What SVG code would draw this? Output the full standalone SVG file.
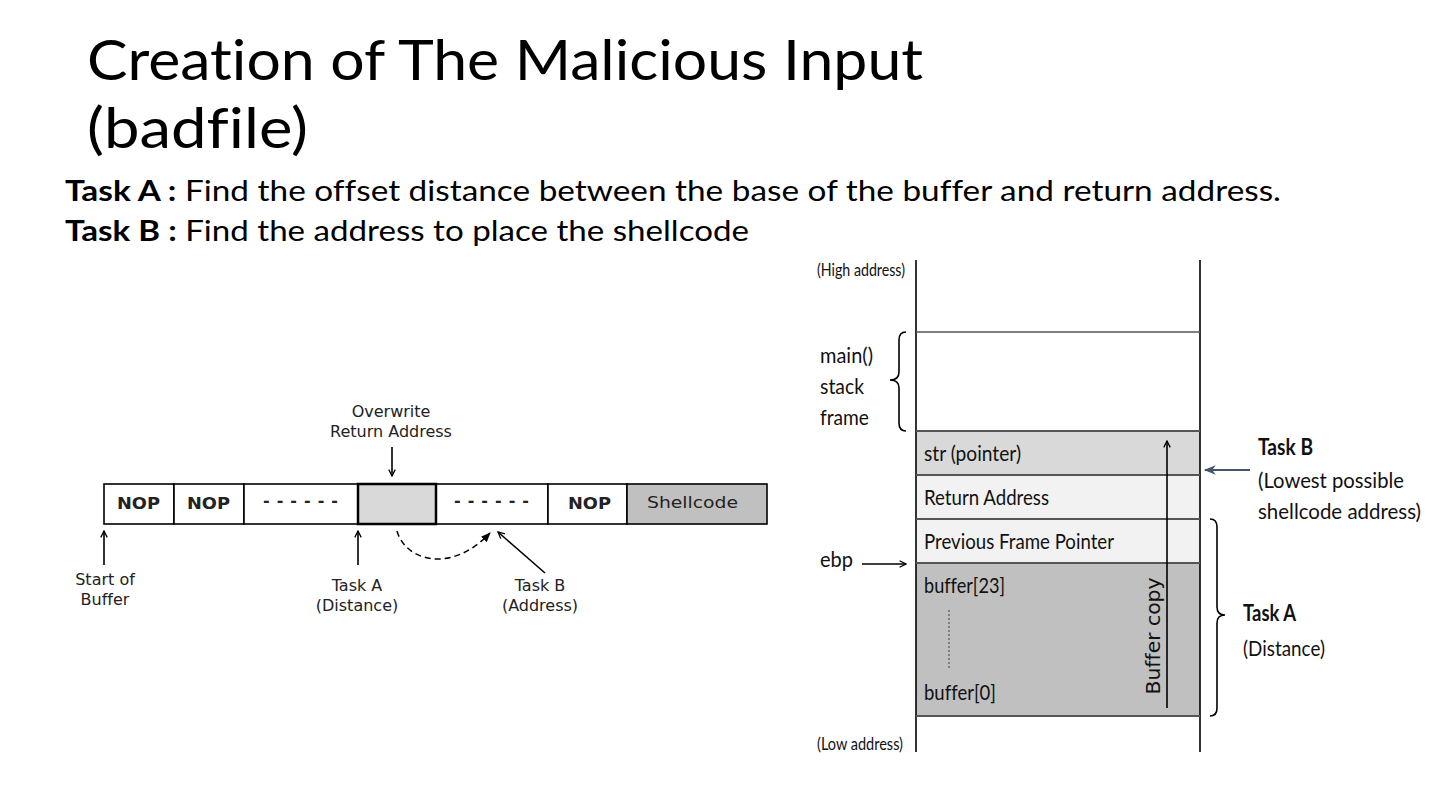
<svg xmlns="http://www.w3.org/2000/svg" width="1440" height="810" viewBox="0 0 1440 810">
<style>
text{font-variant-ligatures:none}
.title{font-family:Lato,"Open Sans",sans-serif;font-size:57px;fill:#000}
.task{font-family:Lato,"Open Sans",sans-serif;font-size:28px;fill:#000}
.sm{font-family:"DejaVu Sans",Verdana,sans-serif;font-size:16px;fill:#222}
.cl{font-family:Lato,"Open Sans",sans-serif;font-size:22px;fill:#111}
.tiny{font-family:Lato,"Open Sans",sans-serif;font-size:17px;fill:#111}
.ln{stroke:#000;stroke-width:1.6;fill:none}
.cell{stroke:#000;stroke-width:1.6}
</style>
<defs>
<marker id="ah" viewBox="0 0 10 10" refX="9" refY="5" markerWidth="8" markerHeight="8" orient="auto-start-reverse" markerUnits="userSpaceOnUse">
<path d="M1,1 L9,5 L1,9" fill="none" stroke="#000" stroke-width="1.6"/>
</marker>
<marker id="ahf" viewBox="0 0 10 10" refX="9" refY="5" markerWidth="10" markerHeight="10" orient="auto" markerUnits="userSpaceOnUse">
<path d="M0,1 L10,5 L0,9 z" fill="#000"/>
</marker>
<marker id="ahb" viewBox="0 0 10 10" refX="9" refY="5" markerWidth="14" markerHeight="12" orient="auto" markerUnits="userSpaceOnUse">
<path d="M0,1 L10,5 L0,9 L3,5 z" fill="#44546a"/>
</marker>
</defs>

<g id="title">
<text class="title" x="87" y="80" textLength="836" lengthAdjust="spacingAndGlyphs">Creation of The Malicious Input</text>
<text class="title" x="87" y="148" textLength="221" lengthAdjust="spacingAndGlyphs">(badfile)</text>
</g>
<g id="tasks">
<text class="task" x="65" y="201" textLength="1216" lengthAdjust="spacingAndGlyphs"><tspan font-weight="bold">Task A :</tspan> Find the offset distance between the base of the buffer and return address.</text>
<text class="task" x="65" y="241" textLength="684" lengthAdjust="spacingAndGlyphs"><tspan font-weight="bold">Task B :</tspan> Find the address to place the shellcode</text>
</g>

<!-- Left buffer diagram -->
<g id="buffer-row">
<rect class="cell" x="104" y="484" width="70" height="40" fill="#fff"/>
<rect class="cell" x="174" y="484" width="70" height="40" fill="#fff"/>
<rect class="cell" x="244" y="484" width="114" height="40" fill="#fff"/>
<rect class="cell" x="436" y="484" width="112" height="40" fill="#fff"/>
<rect class="cell" x="548" y="484" width="79" height="40" fill="#fff"/>
<rect class="cell" x="627" y="484" width="140" height="40" fill="#c0c0c0" stroke-width="2"/>
<rect x="358" y="484" width="78" height="40" fill="#d9d9d9" stroke="#000" stroke-width="2.5"/>
<text class="sm" x="117" y="509" font-weight="bold" textLength="43" lengthAdjust="spacingAndGlyphs">NOP</text>
<text class="sm" x="187" y="509" font-weight="bold" textLength="43" lengthAdjust="spacingAndGlyphs">NOP</text>
<text class="sm" x="263" y="506" font-weight="bold" textLength="75" lengthAdjust="spacing">------</text>
<text class="sm" x="454" y="506" font-weight="bold" textLength="75" lengthAdjust="spacing">------</text>
<text class="sm" x="568" y="509" font-weight="bold" textLength="43" lengthAdjust="spacingAndGlyphs">NOP</text>
<text class="sm" x="647" y="508" textLength="91" lengthAdjust="spacingAndGlyphs">Shellcode</text>
</g>
<g id="left-labels">
<text class="sm" x="391" y="417" text-anchor="middle">Overwrite</text>
<text class="sm" x="391" y="437" text-anchor="middle">Return Address</text>
<text class="sm" x="105" y="585" text-anchor="middle">Start of</text>
<text class="sm" x="105" y="605" text-anchor="middle">Buffer</text>
<text class="sm" x="357" y="591" text-anchor="middle">Task A</text>
<text class="sm" x="357" y="611" text-anchor="middle">(Distance)</text>
<text class="sm" x="540" y="591" text-anchor="middle">Task B</text>
<text class="sm" x="540" y="611" text-anchor="middle">(Address)</text>
</g>

<!-- Right stack diagram -->
<g id="stack">
<rect x="916" y="431" width="284" height="44" fill="#d9d9d9"/>
<rect x="916" y="475" width="284" height="88" fill="#f2f2f2"/>
<rect x="916" y="563" width="284" height="153" fill="#c0c0c0"/>
<line class="ln" x1="916" y1="260" x2="916" y2="752"/>
<line class="ln" x1="1200" y1="260" x2="1200" y2="752"/>
<line x1="916" y1="332" x2="1200" y2="332" stroke="#555" stroke-width="1.4"/>
<line x1="916" y1="431" x2="1200" y2="431" stroke="#555" stroke-width="1.8"/>
<line x1="916" y1="475" x2="1200" y2="475" stroke="#555" stroke-width="1.8"/>
<line x1="916" y1="519" x2="1200" y2="519" stroke="#555" stroke-width="1.8"/>
<line x1="916" y1="563" x2="1200" y2="563" stroke="#555" stroke-width="1.8"/>
<line x1="916" y1="716" x2="1200" y2="716" stroke="#555" stroke-width="1.8"/>
<text class="cl" x="924" y="461" textLength="97" lengthAdjust="spacingAndGlyphs">str (pointer)</text>
<text class="cl" x="924" y="505" textLength="125" lengthAdjust="spacingAndGlyphs">Return Address</text>
<text class="cl" x="924" y="549" textLength="190" lengthAdjust="spacingAndGlyphs">Previous Frame Pointer</text>
<text class="cl" x="924" y="593" textLength="81" lengthAdjust="spacingAndGlyphs">buffer[23]</text>
<text class="cl" x="924" y="700" textLength="72" lengthAdjust="spacingAndGlyphs">buffer[0]</text>
<line x1="949" y1="610" x2="949" y2="670" stroke="#555" stroke-width="1.2" stroke-dasharray="2,2"/>
<text class="tiny" x="817" y="276" textLength="88" lengthAdjust="spacingAndGlyphs">(High address)</text>
<text class="tiny" x="817" y="750" textLength="86" lengthAdjust="spacingAndGlyphs">(Low address)</text>
<text class="cl" x="820" y="363" textLength="53" lengthAdjust="spacingAndGlyphs">main()</text>
<text class="cl" x="820" y="394" textLength="44" lengthAdjust="spacingAndGlyphs">stack</text>
<text class="cl" x="820" y="425" textLength="49" lengthAdjust="spacingAndGlyphs">frame</text>
<text class="cl" x="820" y="567" textLength="33" lengthAdjust="spacingAndGlyphs">ebp</text>
<text x="1160" y="636" transform="rotate(-90 1160 636)" text-anchor="middle" font-family="'DejaVu Sans',Verdana,sans-serif" font-size="19" fill="#111" textLength="117" lengthAdjust="spacingAndGlyphs">Buffer copy</text>
<text class="cl" x="1258" y="455" font-weight="bold" textLength="55" lengthAdjust="spacingAndGlyphs">Task B</text>
<text class="cl" x="1258" y="488" textLength="146" lengthAdjust="spacingAndGlyphs">(Lowest possible</text>
<text class="cl" x="1258" y="519" textLength="163" lengthAdjust="spacingAndGlyphs">shellcode address)</text>
<text class="cl" x="1243" y="621" font-weight="bold" textLength="53" lengthAdjust="spacingAndGlyphs">Task A</text>
<text class="cl" x="1243" y="656" textLength="82" lengthAdjust="spacingAndGlyphs">(Distance)</text>
</g>

<g id="connectors">
<line class="ln" x1="392" y1="447" x2="392" y2="476" marker-end="url(#ah)"/>
<line class="ln" x1="104" y1="565" x2="104" y2="531" marker-end="url(#ah)"/>
<line class="ln" x1="358" y1="565" x2="358" y2="531" marker-end="url(#ah)"/>
<line class="ln" x1="545" y1="573" x2="498" y2="532" marker-end="url(#ah)"/>
<path d="M397,531 C405,560 450,575 490,533" fill="none" stroke="#000" stroke-width="1.5" stroke-dasharray="6,4" marker-end="url(#ahf)"/>
<path d="M906,332 Q899,332 899,340 L899,372 Q899,380 890,380 Q899,380 899,388 L899,423 Q899,431 906,431" fill="none" stroke="#000" stroke-width="1.6"/>
<path d="M1210,519 Q1217,519 1217,527 L1217,607 Q1217,615 1225,615 Q1217,615 1217,623 L1217,708 Q1217,716 1210,716" fill="none" stroke="#000" stroke-width="1.6"/>
<line class="ln" x1="862" y1="564" x2="906" y2="564" marker-end="url(#ah)"/>
<line class="ln" x1="1167" y1="708" x2="1167" y2="441" marker-end="url(#ah)"/>
<line x1="1250" y1="470" x2="1205" y2="470" stroke="#44546a" stroke-width="2.2" marker-end="url(#ahb)"/>
</g>
</svg>
